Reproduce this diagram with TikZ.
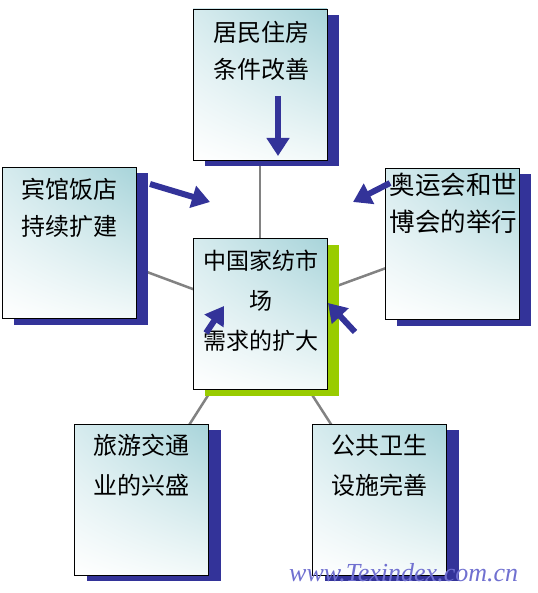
\documentclass[tikz,border=0pt]{standalone}
\usepackage{fontspec}
\newfontfamily\cjk{Noto Sans CJK SC}
\newfontfamily\wmfont{Liberation Serif}
\usetikzlibrary{arrows.meta,shadows,shadings}
\definecolor{navy}{RGB}{51,51,153}
\definecolor{leaf}{RGB}{153,204,0}
\definecolor{linkgray}{RGB}{130,130,130}
\definecolor{tealA}{RGB}{168,212,218}
\definecolor{tealB}{RGB}{214,235,238}
\definecolor{tealC}{RGB}{242,249,249}
\definecolor{wmcol}{RGB}{112,112,208}
\pgfdeclarelayer{background}
\pgfsetlayers{background,main}
\tikzset{
  x=1pt, y=-1pt,
  cardbody/.style={draw=black, line width=0.8pt, minimum width=134pt, minimum height=151pt,
    inner sep=0pt, shade, upper left=tealB, upper right=tealA, lower left=white, lower right=tealC},
  card/.style={cardbody, drop shadow={shadow xshift=12pt, shadow yshift=-6pt, fill=navy, opacity=1}},
  cardtext/.style={anchor=base, align=center, inner sep=0pt, font=\cjk\fontsize{24}{37}\selectfont},
  link/.style={draw=linkgray, line width=2.5pt},
  push/.style={draw=navy, line width=6pt, -{Triangle[width=22pt,length=18pt]}}
}
\begin{document}
\begin{tikzpicture}
\useasboundingbox (0,0) rectangle (537,593);
% cards
\node[card] (top) at (260,84.5) {};
\node[card] (left) at (69,243) {};
\node[card] (right) at (452,244) {};
\node[card] (bl) at (141.5,499.5) {};
\node[card] (br) at (379.5,499.5) {};
\node[cardbody, drop shadow={shadow xshift=12pt, shadow yshift=-6pt, fill=leaf, opacity=1}] (hub) at (260,314) {};
% texts (anchor = baseline of the last line)
\node[cardtext] (ttop) at (261,79) {居民住房\\条件改善};
\node[cardtext] (tleft) at (69,236) {宾馆饭店\\持续扩建};
\node[cardtext, font=\cjk\fontsize{25.5}{37}\selectfont] (tright) at (453.5,231.5) {奥运会和世\\博会的举行};
\node[cardtext, font=\cjk\fontsize{23}{40}\selectfont] (thub) at (261,349) {中国家纺市\\场\\需求的扩大};
\node[cardtext, font=\cjk\fontsize{24}{40}\selectfont] (tbl) at (141.5,494) {旅游交通\\业的兴盛};
\node[cardtext, font=\cjk\fontsize{24}{40}\selectfont] (tbr) at (379,494) {公共卫生\\设施完善};
% connectors
\begin{pgfonlayer}{background}
\draw[link] (top.center) -- (hub.center);
\draw[link] (left.center) -- (hub.center);
\draw[link] (right.center) -- (hub.center);
\draw[link] (bl.center) -- (hub.center);
\draw[link] (br.center) -- (hub.center);
\end{pgfonlayer}
% arrows
\coordinate (a1s) at (278,96);  \coordinate (a1e) at (278,156);
\coordinate (a2s) at (150,184); \coordinate (a2e) at (210,202);
\coordinate (a3s) at (390,183); \coordinate (a3e) at (353,202);
\coordinate (a4s) at (206,333); \coordinate (a4e) at (224,306);
\coordinate (a5s) at (355,332); \coordinate (a5e) at (328,303);
\draw[push] (a1s) -- (a1e);
\draw[push] (a2s) -- (a2e);
\draw[push] (a3s) -- (a3e);
\draw[push] (a4s) -- (a4e);
\draw[push] (a5s) -- (a5e);
% watermark
\node[anchor=base west, inner sep=0pt, text=wmcol, font=\wmfont\itshape\fontsize{26}{26}\selectfont] (wm) at (289,581) {www.Texindex.com.cn};
\end{tikzpicture}
\end{document}
